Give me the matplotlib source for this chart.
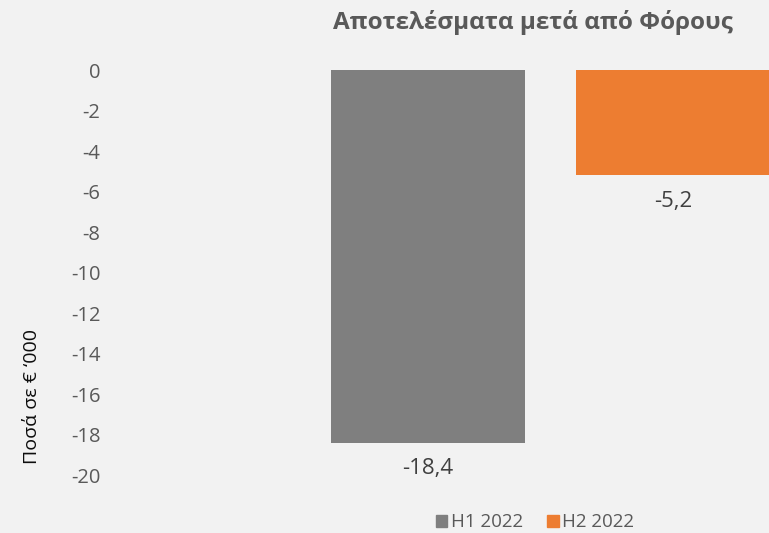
import matplotlib.pyplot as plt

# chart data
periods = ["H1 2022", "H2 2022"]
results = [-18.4, -5.2]
bar_colors = ["#7f7f7f", "#ed7d31"]
y_ticks = list(range(0, -21, -2))

plt.rcParams['font.family'] = ['Open Sans', 'DejaVu Sans']

fig = plt.figure(figsize=(7.69, 5.33), dpi=100)
fig.patch.set_facecolor("#f2f2f2")
ax = fig.add_axes([0.1404, 0.1088, 0.8596, 0.7598])
ax.set_facecolor("#f2f2f2")

x = range(len(periods))
bars = ax.bar(x, results, width=0.792, color=bar_colors)

# value labels under each bar, decimal comma
for xi, v in zip(x, results):
    ax.text(xi, v - 0.75, f"{v:.1f}".replace(".", ","), ha="center", va="top",
            fontsize=16, color="#404040")

ax.set_xlim(-1.306, 1.392)
ax.set_ylim(-20, 0)
ax.set_yticks(y_ticks)
ax.set_yticklabels([str(t) for t in y_ticks])
ax.tick_params(axis="y", length=0, labelsize=14.5, labelcolor="#595959", pad=5.5)
ax.set_xticks([])
for s in ax.spines.values():
    s.set_visible(False)

fig.text(0.0416, 0.257, "Ποσά σε € ‘000", rotation=90, ha="center", va="center",
         fontsize=14, color="#0d0d0d")
fig.text(0.693, 0.957, "Αποτελέσματα μετά από Φόρους", ha="center", va="center",
         fontsize=17.5, fontweight="bold", color="#595959")

handles = [plt.Rectangle((0, 0), 1, 1, color=c) for c in bar_colors]
fig.legend(handles, periods, loc="center", bbox_to_anchor=(0.696, 0.02),
           ncol=2, frameon=False, fontsize=13.5, labelcolor="#595959",
           handlelength=0.6, handleheight=0.6, handletextpad=0.2, columnspacing=1.3)

fig.savefig("out.png", dpi=100, facecolor=fig.get_facecolor())
